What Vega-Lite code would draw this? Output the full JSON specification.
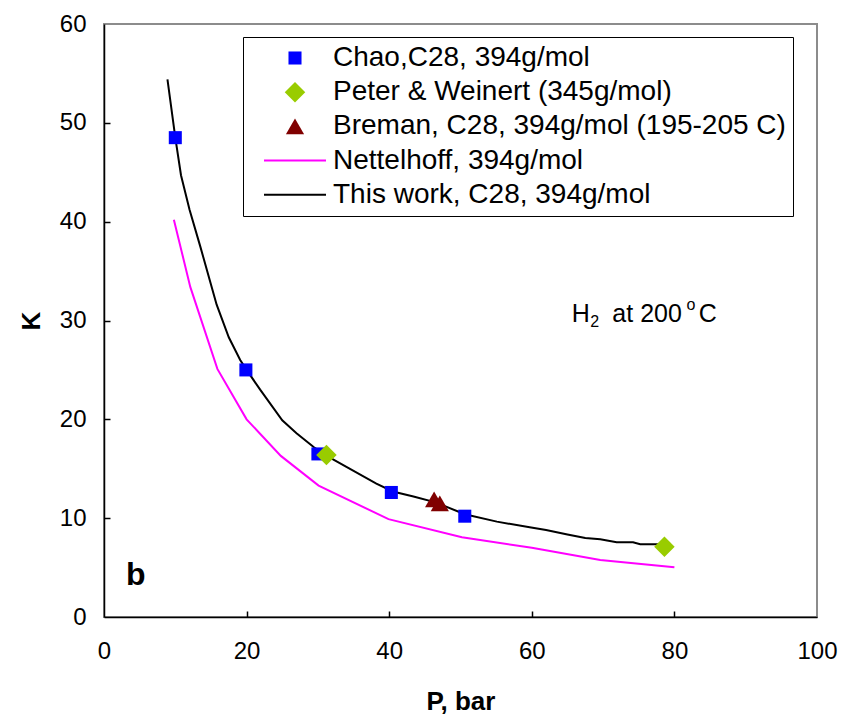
{
  "$schema": "https://vega.github.io/schema/vega-lite/v6.json",
  "width": 713,
  "height": 593,
  "autosize": "none",
  "padding": {"left": 104, "top": 24, "right": 26, "bottom": 105},
  "background": "white",
  "config": {
    "view": {"stroke": "#8c8c8c", "strokeWidth": 2},
    "font": "Liberation Sans"
  },
  "datasets": {
    "curves": [
      {"series": "This work, C28, 394g/mol", "P": 8.9, "K": 54.4},
      {"series": "This work, C28, 394g/mol", "P": 10.0, "K": 48.5},
      {"series": "This work, C28, 394g/mol", "P": 10.8, "K": 44.7},
      {"series": "This work, C28, 394g/mol", "P": 12.0, "K": 41.2},
      {"series": "This work, C28, 394g/mol", "P": 13.5, "K": 37.5},
      {"series": "This work, C28, 394g/mol", "P": 15.8, "K": 31.6},
      {"series": "This work, C28, 394g/mol", "P": 17.5, "K": 28.3},
      {"series": "This work, C28, 394g/mol", "P": 19.1, "K": 26.0},
      {"series": "This work, C28, 394g/mol", "P": 20.0, "K": 25.0},
      {"series": "This work, C28, 394g/mol", "P": 21.9, "K": 23.0},
      {"series": "This work, C28, 394g/mol", "P": 25.0, "K": 19.9},
      {"series": "This work, C28, 394g/mol", "P": 27.0, "K": 18.6},
      {"series": "This work, C28, 394g/mol", "P": 29.4, "K": 17.2},
      {"series": "This work, C28, 394g/mol", "P": 31.0, "K": 16.4},
      {"series": "This work, C28, 394g/mol", "P": 34.0, "K": 15.2},
      {"series": "This work, C28, 394g/mol", "P": 38.2, "K": 13.5},
      {"series": "This work, C28, 394g/mol", "P": 40.5, "K": 12.7},
      {"series": "This work, C28, 394g/mol", "P": 43.4, "K": 12.2},
      {"series": "This work, C28, 394g/mol", "P": 46.5, "K": 11.6},
      {"series": "This work, C28, 394g/mol", "P": 50.6, "K": 10.4},
      {"series": "This work, C28, 394g/mol", "P": 55.1, "K": 9.65},
      {"series": "This work, C28, 394g/mol", "P": 59.7, "K": 9.07},
      {"series": "This work, C28, 394g/mol", "P": 62.0, "K": 8.8},
      {"series": "This work, C28, 394g/mol", "P": 65.0, "K": 8.35},
      {"series": "This work, C28, 394g/mol", "P": 67.5, "K": 8.0},
      {"series": "This work, C28, 394g/mol", "P": 69.6, "K": 7.86},
      {"series": "This work, C28, 394g/mol", "P": 71.9, "K": 7.56},
      {"series": "This work, C28, 394g/mol", "P": 74.2, "K": 7.56},
      {"series": "This work, C28, 394g/mol", "P": 75.2, "K": 7.36},
      {"series": "This work, C28, 394g/mol", "P": 78.3, "K": 7.36},
      {"series": "Nettelhoff, 394g/mol", "P": 9.8, "K": 40.2},
      {"series": "Nettelhoff, 394g/mol", "P": 12.1, "K": 33.4},
      {"series": "Nettelhoff, 394g/mol", "P": 15.9, "K": 25.1},
      {"series": "Nettelhoff, 394g/mol", "P": 20.0, "K": 20.0},
      {"series": "Nettelhoff, 394g/mol", "P": 24.8, "K": 16.3},
      {"series": "Nettelhoff, 394g/mol", "P": 30.1, "K": 13.3},
      {"series": "Nettelhoff, 394g/mol", "P": 39.9, "K": 9.9},
      {"series": "Nettelhoff, 394g/mol", "P": 50.2, "K": 8.06},
      {"series": "Nettelhoff, 394g/mol", "P": 60.0, "K": 7.0},
      {"series": "Nettelhoff, 394g/mol", "P": 69.6, "K": 5.77},
      {"series": "Nettelhoff, 394g/mol", "P": 80.0, "K": 5.03}
    ],
    "markers": [
      {"series": "Chao,C28, 394g/mol", "P": 10.0, "K": 48.5},
      {"series": "Chao,C28, 394g/mol", "P": 19.9, "K": 25.0},
      {"series": "Chao,C28, 394g/mol", "P": 30.0, "K": 16.5},
      {"series": "Chao,C28, 394g/mol", "P": 40.3, "K": 12.6},
      {"series": "Chao,C28, 394g/mol", "P": 50.6, "K": 10.2},
      {"series": "Peter & Weinert (345g/mol)", "P": 31.2, "K": 16.4},
      {"series": "Peter & Weinert (345g/mol)", "P": 78.6, "K": 7.1},
      {"series": "Breman, C28, 394g/mol (195-205 C)", "P": 46.3, "K": 11.9},
      {"series": "Breman, C28, 394g/mol (195-205 C)", "P": 47.1, "K": 11.5}
    ]
  },
  "resolve": {"axis": {"x": "independent", "y": "independent"}},
  "layer": [
    {
      "data": {"name": "curves"},
      "mark": {"type": "line", "strokeWidth": 2},
      "encoding": {
        "x": {
          "field": "P", "type": "quantitative",
          "scale": {"domain": [0, 100], "nice": false, "zero": false},
          "axis": {
            "orient": "bottom",
            "values": [0, 20, 40, 60, 80, 100],
            "grid": false, "ticks": false,
            "domainColor": "#000", "domainWidth": 1.5,
            "labelFont": "Liberation Sans", "labelFontSize": 24, "labelColor": "#000",
            "labelPadding": 22, "labelFlush": false,
            "title": "P, bar", "titleFont": "Liberation Sans", "titleFontSize": 26,
            "titleFontWeight": "bold", "titleColor": "#000", "titlePadding": 25
          }
        },
        "y": {
          "field": "K", "type": "quantitative",
          "scale": {"domain": [0, 60], "nice": false},
          "axis": {
            "orient": "left",
            "values": [0, 10, 20, 30, 40, 50, 60],
            "grid": false, "ticks": false,
            "domainColor": "#000", "domainWidth": 1.5,
            "labelFont": "Liberation Sans", "labelFontSize": 24, "labelColor": "#000",
            "labelPadding": 18, "labelFlush": false,
            "title": "K", "titleFont": "Liberation Sans", "titleFontSize": 26,
            "titleFontWeight": "bold", "titleColor": "#000", "titlePadding": 15
          }
        },
        "color": {
          "field": "series", "type": "nominal",
          "scale": {
            "domain": ["Chao,C28, 394g/mol", "Peter & Weinert (345g/mol)", "Breman, C28, 394g/mol (195-205 C)", "Nettelhoff, 394g/mol", "This work, C28, 394g/mol"],
            "range": ["#0000ff", "#99cc00", "#800000", "#ff00ff", "#000000"]
          }
        }
      }
    },
    {
      "data": {"name": "markers"},
      "mark": {"type": "point", "filled": true, "opacity": 1},
      "encoding": {
        "x": {
          "field": "P", "type": "quantitative",
          "axis": {
            "orient": "bottom", "offset": -6,
            "values": [20, 40, 60, 80],
            "grid": false, "domain": false, "labels": false, "title": null,
            "ticks": true, "tickSize": 6, "tickColor": "#000", "tickWidth": 1.5
          }
        },
        "y": {
          "field": "K", "type": "quantitative",
          "axis": {
            "orient": "left", "offset": -6,
            "values": [10, 20, 30, 40, 50],
            "grid": false, "domain": false, "labels": false, "title": null,
            "ticks": true, "tickSize": 6, "tickColor": "#000", "tickWidth": 1.5
          }
        },
        "color": {
          "field": "series", "type": "nominal",
          "legend": {
            "title": null,
            "orient": "none", "legendX": 139, "legendY": 13,
            "strokeColor": "#000", "fillColor": "#fff", "padding": 7,
            "labelFont": "Liberation Sans", "labelFontSize": 28, "labelColor": "#000",
            "labelLimit": 0, "labelOffset": 24,
            "symbolOffset": 31,
            "rowPadding": 6.2,
            "encoding": {
              "symbols": {
                "stroke": {"value": {"expr": "scale('color', datum.value)"}},
                "strokeWidth": {"value": {"expr": "datum.value == 'Nettelhoff, 394g/mol' || datum.value == 'This work, C28, 394g/mol' ? 2 : 0"}},
                "opacity": {"value": 1}
              }
            }
          }
        },
        "shape": {
          "field": "series", "type": "nominal",
          "scale": {
            "domain": ["Chao,C28, 394g/mol", "Peter & Weinert (345g/mol)", "Breman, C28, 394g/mol (195-205 C)", "Nettelhoff, 394g/mol", "This work, C28, 394g/mol"],
            "range": ["square", "diamond", "triangle-up", "M-3.1,0H3.1", "M-3.1,0H3.1"]
          }
        },
        "size": {
          "field": "series", "type": "nominal",
          "scale": {
            "type": "ordinal",
            "domain": ["Chao,C28, 394g/mol", "Peter & Weinert (345g/mol)", "Breman, C28, 394g/mol (195-205 C)", "Nettelhoff, 394g/mol", "This work, C28, 394g/mol"],
            "range": [170, 420, 330, 400, 400]
          },
          "legend": null
        }
      }
    },
    {
      "data": {"values": [{"P": 65.6, "K": 29.8, "t": "H"}, {"P": 71.3, "K": 29.8, "t": "at 200"}, {"P": 83.4, "K": 29.8, "t": "C"}]},
      "mark": {"type": "text", "align": "left", "baseline": "alphabetic", "font": "Liberation Sans", "fontSize": 25, "color": "#000"},
      "encoding": {
        "x": {"field": "P", "type": "quantitative", "axis": null},
        "y": {"field": "K", "type": "quantitative", "axis": null},
        "text": {"field": "t"}
      }
    },
    {
      "data": {"values": [{"P": 68.2, "K": 29.3, "t": "2"}, {"P": 81.7, "K": 31.1, "t": "o"}]},
      "mark": {"type": "text", "align": "left", "baseline": "alphabetic", "font": "Liberation Sans", "fontSize": 16, "color": "#000"},
      "encoding": {
        "x": {"field": "P", "type": "quantitative", "axis": null},
        "y": {"field": "K", "type": "quantitative", "axis": null},
        "text": {"field": "t"}
      }
    },
    {
      "data": {"values": [{"P": 3.1, "K": 3.24, "t": "b"}]},
      "mark": {"type": "text", "align": "left", "baseline": "alphabetic", "font": "Liberation Sans", "fontSize": 32, "fontWeight": "bold", "color": "#000"},
      "encoding": {
        "x": {"field": "P", "type": "quantitative", "axis": null},
        "y": {"field": "K", "type": "quantitative", "axis": null},
        "text": {"field": "t"}
      }
    }
  ]
}
